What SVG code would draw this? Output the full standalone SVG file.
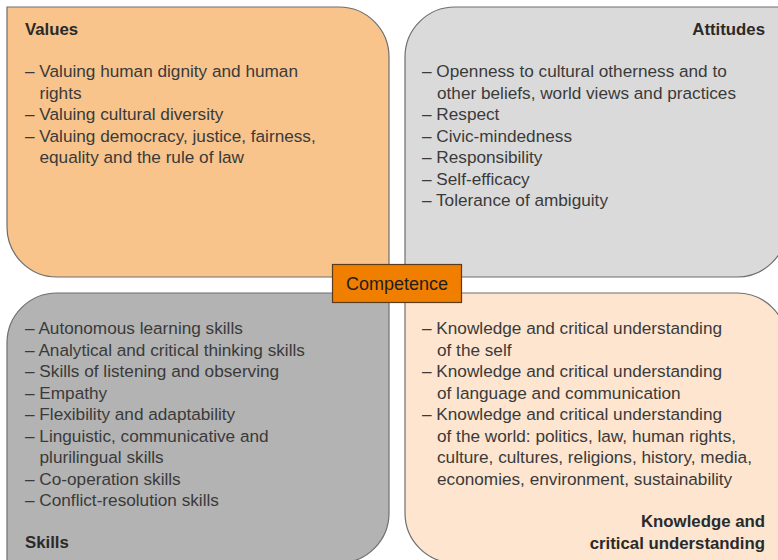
<svg xmlns="http://www.w3.org/2000/svg" width="778" height="560" viewBox="0 0 778 560">
  <style>
    .box { stroke: #6e6e6e; stroke-width: 1.2; }
    .item { font-family: "Liberation Sans", Arial, sans-serif; font-size: 17.2px; fill: #3a3a3a; }
    .head { font-family: "Liberation Sans", Arial, sans-serif; font-size: 16.8px; font-weight: bold; fill: #2a2a2a; }
    .core { font-family: "Liberation Sans", Arial, sans-serif; font-size: 18px; fill: #1e1e1e; }
  </style>
  <rect width="778" height="560" fill="#ffffff"/>

  <!-- Values -->
  <g id="values">
    <path class="box" fill="#f8c48c" d="M7,7 H339 A50,50 0 0 1 389,57 V277 H57 A50,50 0 0 1 7,227 Z"/>
    <text class="head" x="25" y="35">Values</text>
    <text class="item" x="25" y="77">– Valuing human dignity and human</text>
    <text class="item" x="39.5" y="98.5">rights</text>
    <text class="item" x="25" y="120">– Valuing cultural diversity</text>
    <text class="item" x="25" y="141.5">– Valuing democracy, justice, fairness,</text>
    <text class="item" x="39.5" y="163">equality and the rule of law</text>
  </g>

  <!-- Attitudes -->
  <g id="attitudes">
    <path class="box" fill="#dadada" d="M455,7 H787 V227 A50,50 0 0 1 737,277 H405 V57 A50,50 0 0 1 455,7 Z"/>
    <text class="head" x="765" y="35" text-anchor="end">Attitudes</text>
    <text class="item" x="422" y="77">– Openness to cultural otherness and to</text>
    <text class="item" x="437" y="98.5">other beliefs, world views and practices</text>
    <text class="item" x="422" y="120">– Respect</text>
    <text class="item" x="422" y="141.5">– Civic-mindedness</text>
    <text class="item" x="422" y="163">– Responsibility</text>
    <text class="item" x="422" y="184.5">– Self-efficacy</text>
    <text class="item" x="422" y="206">– Tolerance of ambiguity</text>
  </g>

  <!-- Skills -->
  <g id="skills">
    <path class="box" fill="#b3b3b3" d="M7,343 A50,50 0 0 1 57,293 H389 V513 A50,50 0 0 1 339,563 H7 Z"/>
    <text class="item" x="25" y="334">– Autonomous learning skills</text>
    <text class="item" x="25" y="355.5">– Analytical and critical thinking skills</text>
    <text class="item" x="25" y="377">– Skills of listening and observing</text>
    <text class="item" x="25" y="398.5">– Empathy</text>
    <text class="item" x="25" y="420">– Flexibility and adaptability</text>
    <text class="item" x="25" y="441.5">– Linguistic, communicative and</text>
    <text class="item" x="39.5" y="463">plurilingual skills</text>
    <text class="item" x="25" y="484.5">– Co-operation skills</text>
    <text class="item" x="25" y="506">– Conflict-resolution skills</text>
    <text class="head" x="25" y="548">Skills</text>
  </g>

  <!-- Knowledge and critical understanding -->
  <g id="knowledge">
    <path class="box" fill="#fde5cf" d="M405,293 H737 A50,50 0 0 1 787,343 V563 H455 A50,50 0 0 1 405,513 Z"/>
    <text class="item" x="422" y="334">– Knowledge and critical understanding</text>
    <text class="item" x="437" y="355.5">of the self</text>
    <text class="item" x="422" y="377">– Knowledge and critical understanding</text>
    <text class="item" x="437" y="398.5">of language and communication</text>
    <text class="item" x="422" y="420">– Knowledge and critical understanding</text>
    <text class="item" x="437" y="441.5">of the world: politics, law, human rights,</text>
    <text class="item" x="437" y="463">culture, cultures, religions, history, media,</text>
    <text class="item" x="437" y="484.5">economies, environment, sustainability</text>
    <text class="head" x="765" y="527" text-anchor="end">Knowledge and</text>
    <text class="head" x="765" y="548.5" text-anchor="end">critical understanding</text>
  </g>

  <!-- Central label -->
  <g id="competence">
    <rect x="332.5" y="264.5" width="129" height="38" fill="#f07f00" stroke="#5a3b1c" stroke-width="1.2"/>
    <text class="core" x="397" y="290" text-anchor="middle">Competence</text>
  </g>
</svg>
